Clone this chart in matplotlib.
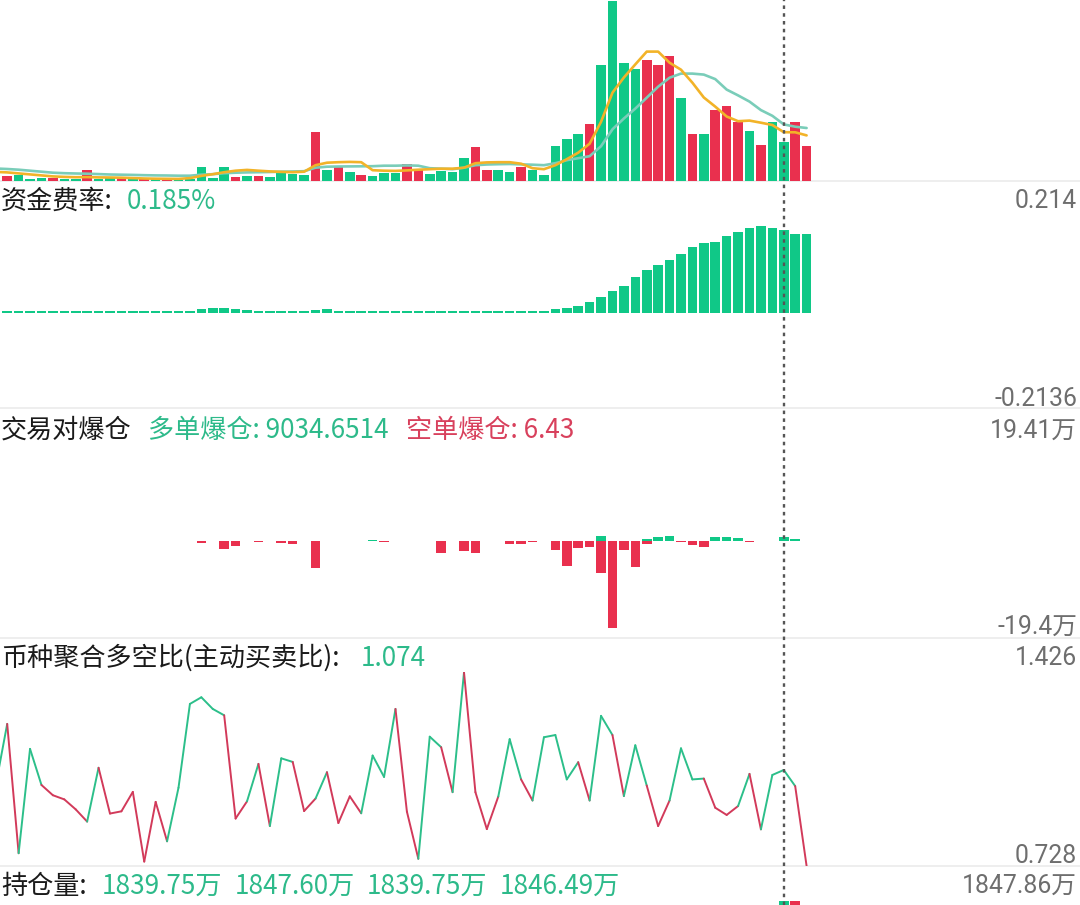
import matplotlib
matplotlib.use("Agg")
import matplotlib.pyplot as plt
from matplotlib.lines import Line2D
from matplotlib.collections import LineCollection
import numpy as np

W, H, DPI = 1080, 905, 100

# ---------------- data ----------------
n_bars = 71
crosshair_index = 68

# volume bars (arbitrary units) and candle direction (G = up, R = down)
volume = [5, 5.3, 1.7, 2.7, 2.7, 2, 2, 11, 2, 3.3,
          3, 2.3, 1.7, 1.3, 2, 1, 1.3, 13.7, 2.7, 14,
          4, 5, 5, 3.3, 10, 6.7, 6, 48.3, 11, 14.3,
          9, 5.3, 5, 7.7, 7.7, 17, 10.3, 6.3, 9.3, 8.7,
          22.3, 33.3, 11, 11, 9, 13.3, 11, 6, 34.3, 41.3,
          46.7, 56.7, 115.3, 180, 117.3, 112, 120.7, 115.7, 124.3, 82.3,
          47, 46.7, 70.3, 74.7, 59, 50, 36, 59, 38.3, 58.7,
          34.3]
direction = list("RGGGRGGRGGRGRGRGGGGGRGRGGGGRGRGRGGGRRGGGGRRGGRGGGGGRGGGGRRRGRGRRRGRGGRR")

# moving-average lines (index -1 .. 70)
ma5 = [8.8, 8.3, 7.3, 6.3, 5.3, 4.3, 3.8, 3.5, 3.6, 3.3, 3.2,
       3.0, 2.6, 2.2, 2.0, 1.9, 1.8, 2.6, 4.8, 6.5, 8.5,
       10.0, 10.8, 10.0, 9.3, 8.8, 8.5, 9.0, 15.5, 18.0, 18.5,
       18.8, 18.5, 10.5, 10.0, 9.8, 10.3, 11.0, 11.5, 12.0, 12.0,
       13.0, 17.5, 18.3, 18.5, 18.5, 17.0, 12.5, 11.5, 15.5, 21.5,
       28.0, 37.0, 58.9, 88.0, 103.2, 116.3, 129.1, 129.1, 118.0, 111.0,
       98.0, 83.2, 74.1, 64.2, 59.5, 60.1, 58.0, 55.7, 48.5, 48.4,
       45.3]
ma10 = [12.2, 11.7, 11.0, 10.0, 9.0, 8.0, 7.5, 7.2, 7.0, 6.6, 6.2,
        6.0, 5.8, 5.5, 5.3, 5.2, 5.0, 5.0, 6.0, 6.5, 7.5,
        8.0, 8.3, 8.5, 8.7, 9.0, 9.2, 9.5, 13.0, 14.0, 14.2,
        14.3, 14.4, 14.5, 15.0, 15.0, 15.3, 15.0, 12.5, 12.0, 11.5,
        13.0, 15.5, 16.2, 16.5, 16.7, 16.3, 16.0, 15.5, 17.5, 20.5,
        22.5, 24.5, 34.5, 51.4, 62.2, 72.1, 83.0, 94.0, 103.0, 107.1,
        107.1, 106.1, 101.6, 91.1, 85.3, 79.1, 70.6, 64.9, 56.3, 54.0,
        52.7]

# funding rate (%)
funding = [0.005] * 17 + [0.0085, 0.011, 0.010, 0.0085, 0.006] + [0.005] * 5 + \
          [0.006, 0.0075] + [0.005] * 18 + \
          [0.005, 0.0075, 0.011, 0.016, 0.024, 0.035, 0.048, 0.060, 0.080, 0.096,
           0.107, 0.118, 0.131, 0.147, 0.157, 0.159, 0.171, 0.180, 0.189, 0.194,
           0.190, 0.185, 0.177, 0.176]
funding_top, funding_bottom = 0.214, -0.2136

# liquidations (万): long shown up (green), short shown down (red)
liq_long = [0] * n_bars
liq_short = [0] * n_bars
for k, v in {8: 0.03, 13: 0.06, 15: 0.03, 26: 0.03, 32: 0.2, 36: 0.05, 52: 1.0,
             56: 0.47, 57: 0.8, 58: 1.07, 62: 0.87, 63: 0.87, 64: 0.6,
             68: 0.9035, 69: 0.4}.items():
    liq_long[k] = v
for k, v in {8: 0.03, 15: 0.03, 17: 0.3, 19: 1.6, 20: 1.0, 22: 0.15, 24: 0.4,
             25: 0.5, 26: 0.03, 27: 5.3, 33: 0.15, 36: 0.05, 38: 2.3, 40: 1.9,
             41: 2.3, 44: 0.6, 45: 0.55, 46: 0.2, 48: 1.87, 49: 5.0, 50: 1.33,
             51: 1.13, 52: 6.47, 53: 17.47, 54: 1.87, 55: 5.13, 56: 0.67,
             59: 0.1, 60: 0.8, 61: 1.2, 65: 0.27, 68: 0.000643}.items():
    liq_short[k] = v
liq_top, liq_bottom = 19.41, -19.4

# long/short ratio (index -1 .. 70)
ratio = [1.02, 1.240, 0.774, 1.150, 1.020, 0.983, 0.968, 0.932, 0.888, 1.082,
         0.917, 0.925, 0.995, 0.744, 0.959, 0.817, 1.010, 1.312, 1.336, 1.294,
         1.271, 0.899, 0.961, 1.096, 0.872, 1.116, 1.103, 0.926, 0.971, 1.066,
         0.883, 0.979, 0.918, 1.126, 1.049, 1.294, 0.924, 0.754, 1.194, 1.156,
         0.994, 1.426, 0.994, 0.861, 0.978, 1.185, 1.040, 0.964, 1.192, 1.200,
         1.040, 1.102, 0.964, 1.269, 1.200, 0.980, 1.163, 1.018, 0.872, 0.964,
         1.152, 1.040, 1.043, 0.938, 0.912, 0.944, 1.060, 0.860, 1.056, 1.074,
         1.016, 0.728]
ratio_top, ratio_bottom = 1.426, 0.728

# open interest tail bars visible at the bottom edge
oi_index = [68, 69]
oi_value = [0.7, 0.7]
oi_dir = ["G", "R"]

# labels
funding_label, funding_value = "资金费率:", "0.185%"
liq_label = "交易对爆仓"
liq_long_text = "多单爆仓: 9034.6514"
liq_short_text = "空单爆仓: 6.43"
ratio_label, ratio_value = "币种聚合多空比(主动买卖比):", "1.074"
oi_label = "持仓量:"
oi_values = ["1839.75万", "1847.60万", "1839.75万", "1846.49万"]
oi_right = "1847.86万"

# ---------------- style ----------------
GREEN = "#10C887"
RED = "#E9304E"
TXT_GREEN = "#2DBA8A"
TXT_RED = "#D8405C"
LINE_GREEN = "#2CBF8A"
LINE_RED = "#D23A5A"
YELLOW = "#F2B328"
TEAL = "#7ACDB9"
GREY_TXT = "#6E6E6E"
CJK = ["Noto Sans CJK SC", "DejaVu Sans"]
NUM = ["Roboto", "Noto Sans CJK SC", "DejaVu Sans"]

x0_px, pitch_px = 7.2, 11.42
XL = -x0_px / pitch_px
XR = (W - x0_px) / pitch_px
bw = 0.84

idx = np.arange(n_bars)
idx_ext = np.arange(-1, n_bars)
col = lambda d: GREEN if d == "G" else RED

fig = plt.figure(figsize=(W / DPI, H / DPI), dpi=DPI)
fig.patch.set_facecolor("white")


def panel(top_px, bottom_px, z=1):
    ax = fig.add_axes([0, 1 - bottom_px / H, 1, (bottom_px - top_px) / H])
    ax.set_xlim(XL, XR)
    ax.axis("off")
    ax.set_zorder(z)
    return ax


# separators
for ypx in [181, 408.5, 637.5, 865.5]:
    fig.add_artist(Line2D([0, 1], [1 - ypx / H] * 2, color="#EBEBEB", lw=1.2,
                          transform=fig.transFigure, zorder=-5))

# panel 1: volume
ax1 = panel(0, 180.7)
ax1.set_ylim(0, 180.7)
ax1.bar(idx, volume, width=bw, color=[col(d) for d in direction], linewidth=0)
ax1.plot(idx_ext, ma10, color=TEAL, lw=1.9, solid_capstyle="round")
ax1.plot(idx_ext, ma5, color=YELLOW, lw=1.9, solid_capstyle="round")

# panel 2: funding rate
ax2 = panel(217, 408.3)
ax2.set_ylim(funding_bottom, funding_top)
ax2.bar(idx, funding, width=bw, color=GREEN, linewidth=0)

# panel 3: liquidations
ax3 = panel(444, 638)
ax3.set_ylim(liq_bottom, liq_top)
ax3.bar(idx, liq_long, width=bw, color=GREEN, linewidth=0)
ax3.bar(idx, [-v for v in liq_short], width=bw, color=RED, linewidth=0)

# panel 4: long/short ratio
ax4 = panel(672.3, 866)
ax4.set_ylim(ratio_bottom, ratio_top)
pts = np.column_stack([idx_ext, ratio])
segs = [pts[k:k + 2] for k in range(len(pts) - 1)]
seg_cols = [LINE_GREEN if ratio[k + 1] >= 1 else LINE_RED for k in range(len(pts) - 1)]
ax4.add_collection(LineCollection(segs, colors=seg_cols, linewidths=1.4,
                                  capstyle="round", joinstyle="round"))

# bottom tail of open-interest panel
ax5 = panel(899.5, 905)
ax5.set_ylim(0, 1)
ax5.bar(oi_index, oi_value, width=bw, color=[col(d) for d in oi_dir], linewidth=0)

# crosshair
axc = fig.add_axes([0, 0, 1, 1])
axc.set_xlim(XL, XR)
axc.set_ylim(0, 1)
axc.axis("off")
axc.set_zorder(10)
axc.axvline(crosshair_index, color="#555555", lw=1.7, linestyle=(0, (1.5, 1.8)))


def txt(xpx, ypx, s, color, family, size, ha="left"):
    fig.text(xpx / W, 1 - ypx / H, s, color=color, family=family, fontsize=size,
             ha=ha, va="center")


TS = 18.8
NS = 17.8
txt(1, 201.5, funding_label, "#1A1A1A", CJK, TS)
txt(127, 201.5, funding_value, TXT_GREEN, CJK, TS)
txt(1077, 201.5, f"{funding_top:g}", GREY_TXT, NUM, NS, ha="right")
txt(1077, 398.5, f"{funding_bottom:g}", GREY_TXT, NUM, NS, ha="right")

txt(1, 430.5, liq_label, "#1A1A1A", CJK, TS)
txt(148, 430.5, liq_long_text, TXT_GREEN, CJK, TS)
txt(406, 430.5, liq_short_text, TXT_RED, CJK, TS)
txt(1077, 430.5, f"{liq_top:g}万", GREY_TXT, NUM, NS, ha="right")
txt(1077, 627, f"{liq_bottom:g}万", GREY_TXT, NUM, NS, ha="right")

txt(1, 658, ratio_label, "#1A1A1A", CJK, TS)
txt(361, 658, ratio_value, TXT_GREEN, CJK, TS)
txt(1077, 658, f"{ratio_top:g}", GREY_TXT, NUM, NS, ha="right")
txt(1077, 856, f"{ratio_bottom:g}", GREY_TXT, NUM, NS, ha="right")

txt(1, 886, oi_label, "#1A1A1A", CJK, TS)
for xp, s in zip([102, 235, 367, 500], oi_values):
    txt(xp, 886, s, TXT_GREEN, CJK, TS)
txt(1077, 886, oi_right, GREY_TXT, NUM, NS, ha="right")

fig.savefig("out.png", dpi=DPI, facecolor="white")
